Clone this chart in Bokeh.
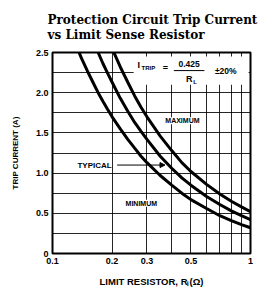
import math
from bokeh.plotting import figure
from bokeh.models import FixedTicker, Label, Arrow, NormalHead, BoxAnnotation, Range1d
from bokeh.embed import file_html
from bokeh.resources import INLINE

# ---- data ----
resistance = [0.12, 0.13, 0.14, 0.15, 0.16, 0.17, 0.18, 0.19, 0.20, 0.22, 0.24, 0.26,
              0.28, 0.30, 0.35, 0.40, 0.45, 0.50, 0.60, 0.70, 0.80, 0.90, 1.00]
trip_minimum = [2.83, 2.62, 2.43, 2.27, 2.13, 2.00, 1.89, 1.79, 1.70, 1.55, 1.42, 1.31,
                1.21, 1.13, 0.97, 0.85, 0.75, 0.67, 0.56, 0.47, 0.41, 0.36, 0.32]
trip_typical = [3.54, 3.27, 3.04, 2.83, 2.66, 2.50, 2.36, 2.24, 2.13, 1.93, 1.77, 1.63,
                1.52, 1.42, 1.21, 1.06, 0.94, 0.85, 0.71, 0.61, 0.53, 0.47, 0.42]
trip_maximum = [4.25, 3.92, 3.64, 3.40, 3.19, 3.00, 2.83, 2.68, 2.55, 2.32, 2.13, 1.96,
                1.82, 1.70, 1.46, 1.28, 1.13, 1.02, 0.86, 0.74, 0.65, 0.58, 0.52]

x_ticks = [0.1, 0.2, 0.3, 0.5, 1.0]
x_tick_labels = ["0.1", "0.2", "0.3", "0.5", "1"]
y_ticks = [0.0, 0.5, 1.0, 1.5, 2.0, 2.5]
y_tick_labels = ["0", "0.5", "1.0", "1.5", "2.0", "2.5"]
x_grid = [0.2, 0.3, 0.4, 0.5, 0.6, 0.7, 0.8, 0.9]
y_grid = [0.25, 0.5, 0.75, 1.0, 1.25, 1.5, 1.75, 2.0, 2.25]

title_text = "Protection Circuit Trip Current\nvs Limit Sense Resistor"
y_title = "TRIP CURRENT (A)"
x_title = "LIMIT RESISTOR, R\u2097(\u03a9)"

SANS = "Liberation Sans"

p = figure(width=261, height=290, x_axis_type="log",
           x_range=Range1d(0.1, 1.0), y_range=Range1d(0, 2.5),
           output_backend="svg", toolbar_location=None,
           min_border_left=52, min_border_right=11, min_border_top=0, min_border_bottom=37)
p.background_fill_color = "white"
p.border_fill_color = "white"
p.outline_line_color = "black"
p.outline_line_width = 2

p.title.text = title_text
p.title.align = "left"
p.title.offset = -12
p.title.standoff = 21
p.title.padding = (7, 0, 0, 0)
p.title.text_line_height = 1.07
p.title.text_font = "DejaVu Serif"
p.title.text_font_style = "bold"
p.title.text_font_size = "12px"
p.title.text_color = "black"

for ax, ticks, labels in ((p.xaxis[0], x_ticks, x_tick_labels), (p.yaxis[0], y_ticks, y_tick_labels)):
    ax.ticker = FixedTicker(ticks=ticks)
    ax.major_label_overrides = {t: l for t, l in zip(ticks, labels)}
    ax.axis_line_color = None
    ax.major_tick_line_color = None
    ax.minor_tick_line_color = None
    ax.major_tick_out = 0
    ax.major_tick_in = 0
    ax.minor_tick_out = 0
    ax.minor_tick_in = 0
    ax.major_label_text_font = SANS
    ax.major_label_text_font_style = "bold"
    ax.major_label_text_font_size = "9px"
    ax.major_label_text_color = "black"
    ax.major_label_standoff = 4
    ax.axis_label_text_font = SANS
    ax.axis_label_text_font_style = "bold"
    ax.axis_label_text_color = "black"

p.xaxis[0].axis_label = x_title
p.xaxis[0].axis_label_text_font_size = "9.5px"
p.xaxis[0].axis_label_standoff = 9
p.yaxis[0].axis_label = y_title
p.yaxis[0].axis_label_text_font_size = "8px"
p.yaxis[0].axis_label_standoff = 13

p.xgrid.ticker = FixedTicker(ticks=x_grid)
p.ygrid.ticker = FixedTicker(ticks=y_grid)
for g in (p.xgrid[0], p.ygrid[0]):
    g.grid_line_color = "black"
    g.grid_line_width = 1
    g.grid_line_alpha = 0.85

for series in (trip_minimum, trip_typical, trip_maximum):
    p.line(resistance, series, line_color="black", line_width=3)

# formula box
p.add_layout(BoxAnnotation(left=0.257, right=0.978, bottom=2.10, top=2.45,
                           fill_color="white", fill_alpha=1, line_alpha=0))


def lab(x, y, text, size, align="left", baseline="middle", bg=None, xo=0, yo=0):
    p.add_layout(Label(x=x, y=y, text=text, text_font=SANS, text_font_style="bold",
                       text_font_size=size, text_align=align, text_baseline=baseline,
                       text_color="black", background_fill_color=bg,
                       x_offset=xo, y_offset=yo))


# formula
lab(0.269, 2.34, "I", "9px")
lab(0.269, 2.34, "TRIP", "6px", xo=4, yo=-3)
lab(0.372, 2.31, "=", "9px", align="center")
lab(0.49, 2.36, "0.425", "8.5px", align="center")
lab(0.49, 2.17, "R", "9px", align="center")
lab(0.49, 2.17, "L", "6px", xo=4, yo=-3)
lab(0.75, 2.27, "\u00b120%", "8.5px", align="center")
p.segment(x0=[0.41], x1=[0.585], y0=[2.275], y1=[2.275], line_color="black",
          line_width=1, level="overlay")

# curve labels
lab(0.453, 1.65, "MAXIMUM", "7px", align="center", bg="white")
lab(0.281, 0.625, "MINIMUM", "7px", align="center", bg="white")
lab(0.199, 1.10, "TYPICAL", "8px", align="right", bg="white")
p.add_layout(Arrow(x_start=0.212, y_start=1.10, x_end=0.37, y_end=1.10,
                   line_color="black", line_width=1,
                   end=NormalHead(size=5, fill_color="black", line_color="black")))

open("out.html", "w").write(file_html(p, INLINE))
